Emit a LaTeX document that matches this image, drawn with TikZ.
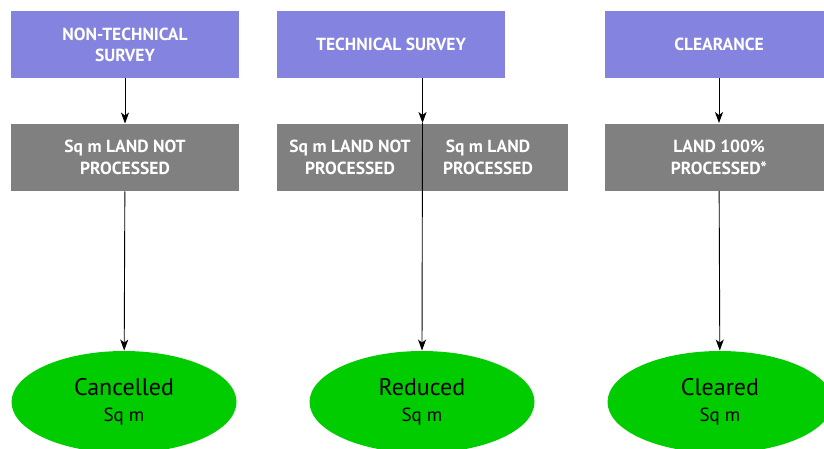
\documentclass[tikz,border=0pt]{standalone}
\usepackage{fontspec}
\setmainfont{PT Sans}
\usetikzlibrary{arrows, arrows.meta, positioning, shapes.geometric}
\definecolor{surveyblue}{RGB}{132,132,224}
\definecolor{landgray}{RGB}{128,128,128}
\definecolor{resultgreen}{RGB}{0,204,0}

\begin{document}
\begin{tikzpicture}
  [x=1pt, y=-1pt, >={Stealth[length=11pt, width=8pt, inset=3pt]}, line width=0.9pt,
   phase/.style={rectangle, fill=surveyblue, text=white, inner sep=0pt,
     minimum width=228pt, minimum height=67pt, align=center,
     font=\fontsize{17.5}{21}\selectfont\bfseries},
   land/.style={rectangle, fill=landgray, text=white, inner sep=0pt,
     minimum width=228pt, minimum height=67pt, align=center,
     font=\fontsize{17.5}{22}\selectfont\bfseries},
   landtext/.style={text=white, inner sep=0pt, align=center,
     font=\fontsize{17.5}{22}\selectfont\bfseries},
   result/.style={ellipse, fill=resultgreen, inner sep=0pt,
     minimum width=225pt, minimum height=102pt, align=center,
     font=\fontsize{24}{26}\selectfont}]
  \useasboundingbox (0,0) rectangle (824,448);
  \clip (0,0) rectangle (824,448);
  % survey phases
  \node (nts) at (125,44.5) [phase] {NON-TECHNICAL\\SURVEY};
  \node (ts) at (391,44.5) [phase] {TECHNICAL SURVEY};
  \node (clr) at (719,44.5) [phase] {CLEARANCE};
  % land status
  \node (ntsland) at (125,157.5) [land] {Sq m LAND NOT\\PROCESSED};
  \node (tsland) at (422.5,157) [land, minimum width=291pt] {};
  \node (tsnot) at (350,157) [landtext] {Sq m LAND NOT\\PROCESSED};
  \node (tsdone) at (488,157) [landtext] {Sq m LAND\\PROCESSED};
  \node (clrland) at (719,157) [land] {LAND 100\%\\PROCESSED*};
  % results
  \node (cancelled) at (124,402) [result] {Cancelled\\[0pt]{\fontsize{19}{22}\selectfont Sq m}};
  \node (reduced) at (422,402) [result] {Reduced\\[0pt]{\fontsize{19}{22}\selectfont Sq m}};
  \node (cleared) at (720,402) [result] {Cleared\\[0pt]{\fontsize{19}{22}\selectfont Sq m}};
  \draw [->] (nts) to (ntsland);
  \draw [->] (ntsland) to (cancelled);
  \draw [->] (ts.south -| tsland.north) to (tsland.north);
  \draw [->] (tsland.north) to (reduced.north);
  \draw [->] (clr) to (clrland);
  \draw [->] (clrland) to (cleared);
\end{tikzpicture}
\end{document}
